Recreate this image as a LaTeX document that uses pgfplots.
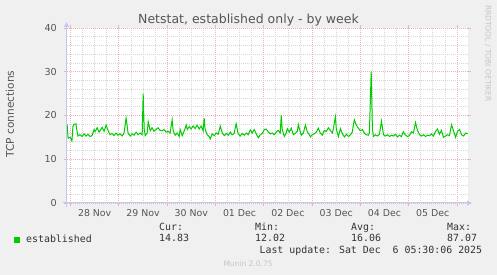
\documentclass[border=0pt]{standalone}
\usepackage{fontspec}
\setmainfont{DejaVu Sans}
\newfontfamily\mono{DejaVu Sans Mono}
\usepackage{pgfplots}
\usepackage{pgfplotstable}
\pgfplotsset{compat=1.18}
\usetikzlibrary{arrows.meta}
\definecolor{bg}{HTML}{F0F0F0}
\definecolor{txt}{HTML}{555555}
\definecolor{ltxt}{HTML}{333333}
\definecolor{mgrid}{HTML}{EAB4B4}
\definecolor{ngrid}{HTML}{D6D6D6}
\definecolor{axl}{HTML}{C4C8F4}
\definecolor{lg}{HTML}{00CC00}
\definecolor{wm}{HTML}{C4C4C4}
\pgfplotstableread{
h v
-1.7 18.0
-1.2 14.8
-0.2 15.0
0.7 14.2
1.2 17.5
1.7 18.0
2.7 18.1
3.2 16.5
3.7 15.3
4.7 15.6
5.7 15.2
6.7 15.8
7.7 15.3
8.7 15.7
9.7 15.2
10.7 15.4
11.7 16.8
12.2 16.3
13.2 17.2
14.2 16.2
15.2 16.9
15.7 17.3
16.7 16.4
17.7 17.8
18.7 16.5
19.7 15.6
20.6 15.9
21.6 15.4
22.6 16.0
23.6 15.5
24.6 15.8
25.6 15.3
26.6 16.0
27.6 19.4
28.6 16.0
29.6 15.3
30.6 15.8
31.6 15.5
32.6 16.2
33.6 15.6
34.6 16.0
35.6 15.6
36.1 25.0
36.6 17.0
37.1 15.4
38.1 16.0
38.6 18.6
39.6 16.5
40.5 17.2
41.5 16.4
42.5 16.8
43.5 17.2
44.5 16.6
45.5 16.5
46.5 16.8
47.5 16.2
48.5 16.4
49.5 16.0
50.5 19.0
51.0 16.5
52.0 15.5
53.0 16.0
54.0 15.2
54.5 16.8
55.5 15.4
56.5 16.5
57.5 17.8
58.0 16.8
59.0 17.5
59.9 16.9
60.9 17.6
61.9 17.0
62.9 17.8
63.9 16.9
64.9 17.6
65.9 16.5
66.4 19.4
66.9 16.8
67.9 15.6
68.9 15.2
69.4 14.6
70.4 15.8
71.4 15.4
72.4 16.0
73.4 15.7
74.4 17.6
75.4 16.0
76.4 15.4
77.4 15.9
78.4 15.5
79.4 16.2
80.3 15.6
81.3 15.9
82.3 18.1
83.3 15.8
84.3 15.3
85.3 15.9
86.3 15.5
87.3 16.0
88.3 15.6
89.3 16.7
90.3 16.0
91.3 16.8
92.3 15.8
93.3 14.9
94.3 15.6
95.3 15.9
96.3 16.8
97.3 16.9
98.3 16.2
99.3 15.8
100.2 16.0
101.2 15.6
102.2 16.2
103.2 16.6
104.2 16.0
104.7 20.0
105.2 16.8
106.2 15.2
107.2 16.0
107.7 17.0
108.7 16.2
109.7 17.1
110.7 15.6
111.7 15.9
112.7 16.4
113.2 17.9
114.2 16.2
114.7 15.5
115.7 16.0
116.7 17.8
117.7 16.2
118.7 15.6
119.2 15.1
120.1 15.6
121.1 15.8
122.1 16.2
123.1 17.1
124.1 16.0
125.1 15.5
126.1 16.6
127.1 16.3
128.1 17.2
129.1 16.6
130.1 16.0
130.6 17.0
131.6 19.7
132.1 16.8
133.1 15.2
134.1 17.0
135.1 15.8
136.1 15.1
137.1 15.7
138.1 15.2
139.1 15.6
140.0 16.2
141.0 19.0
142.0 17.8
143.0 17.1
144.0 16.5
145.0 16.8
146.0 16.0
147.0 15.6
148.0 15.5
148.5 16.0
149.4 30.0
150.0 17.0
150.5 15.2
151.5 15.6
152.5 15.3
153.5 15.7
154.5 18.7
155.5 15.6
156.5 15.3
157.5 15.6
158.5 15.2
159.5 15.5
160.4 15.3
161.4 15.7
162.4 15.1
163.4 15.5
164.4 15.2
165.4 16.3
166.4 15.5
167.4 15.2
168.4 15.4
169.4 16.3
170.4 16.0
171.4 18.4
172.4 16.6
173.4 15.6
174.4 15.3
175.4 15.6
176.4 15.2
177.4 15.5
178.4 15.4
179.4 15.8
180.3 15.3
181.3 16.3
182.3 16.9
183.3 15.7
184.3 16.6
185.3 15.0
186.3 15.3
187.3 15.6
188.3 15.4
189.3 17.9
190.3 16.5
191.3 15.0
192.3 16.4
193.3 16.8
194.3 15.6
195.3 15.3
196.3 16.0
197.3 15.8
}\established
\begin{document}
\begin{tikzpicture}[x=1pt,y=1pt]
\fill[bg] (0,0) rectangle (497,275);
\begin{axis}[
  at={(67pt,72pt)}, anchor=south west, scale only axis,
  width=401pt, height=175pt,
  xmin=-1.75, xmax=197.5, ymin=0, ymax=40,
  axis background/.style={fill=white},
  axis line style={draw=none},
  xtick={0,24,48,72,96,120,144,168,192}, xticklabels={},
  minor x tick num=3,
  ytick={0,10,20,30,40}, minor y tick num=4,
  grid=both,
  major grid style={mgrid, line width=0.7pt, dash pattern=on 1pt off 1pt},
  minor grid style={ngrid, line width=0.7pt, dash pattern=on 1pt off 1pt},
  tick align=outside, major tick length=3pt, minor tick length=0pt,
  major tick style={mgrid, line width=0.8pt},
  extra x ticks={12,36,60,84,108,132,156,180},
  extra x tick labels={28 Nov,29 Nov,30 Nov,01 Dec,02 Dec,03 Dec,04 Dec,05 Dec},
  extra x tick style={grid=none, major tick length=0pt},
  xticklabel style={font=\fontsize{9.4}{10}\selectfont, text=txt, anchor=base, inner sep=0pt, yshift=-14pt},
  yticklabel style={font=\fontsize{9.6}{10}\selectfont, text=txt, anchor=east, inner sep=0pt, xshift=-7pt},
  /pgf/number format/assume math mode=true,
]
\addplot[lg, line width=1pt, mark=none] table[x=h, y=v] {\established};
\end{axis}
\draw[axl, line width=1pt, -{Triangle[width=5pt,length=5pt]}] (63,72) -- (472,72);
\draw[axl, line width=1pt, -{Triangle[width=5pt,length=5pt]}] (66.5,68) -- (66.5,253);
\node[anchor=base, inner sep=0pt, text=txt, font=\fontsize{12.5}{14}\selectfont] at (248.5,251) {Netstat, established only - by week};
\node[rotate=90, inner sep=0pt, text=txt, font=\fontsize{10.6}{12}\selectfont] at (10,161) {TCP connections};
\fill[lg] (14,32.3) rectangle (20,38.3);
\begin{scope}[every node/.style={anchor=base west, inner sep=0pt, text=ltxt, font=\mono\fontsize{9.9}{11}\selectfont}]
\node at (26,32) {established};
\node at (159,44) {Cur:};
\node at (159,33) {14.83};
\node at (255,44) {Min:};
\node at (255,33) {12.02};
\node at (351,44) {Avg:};
\node at (351,33) {16.06};
\node at (447,44) {Max:};
\node at (447,33) {87.07};
\node[anchor=base east] at (482.3,21) {Last update: Sat Dec\ \ 6 05:30:06 2025};
\end{scope}
\node[anchor=base west, inner sep=0pt, text=wm, font=\fontsize{7.5}{8}\selectfont] at (223.3,8.5) {Munin 2.0.75};
\node[rotate=-90, inner sep=0pt, text=wm, font=\fontsize{7.5}{8}\selectfont] at (488,221.5) {RRDTOOL / TOBI OETIKER};
\end{tikzpicture}
\end{document}
